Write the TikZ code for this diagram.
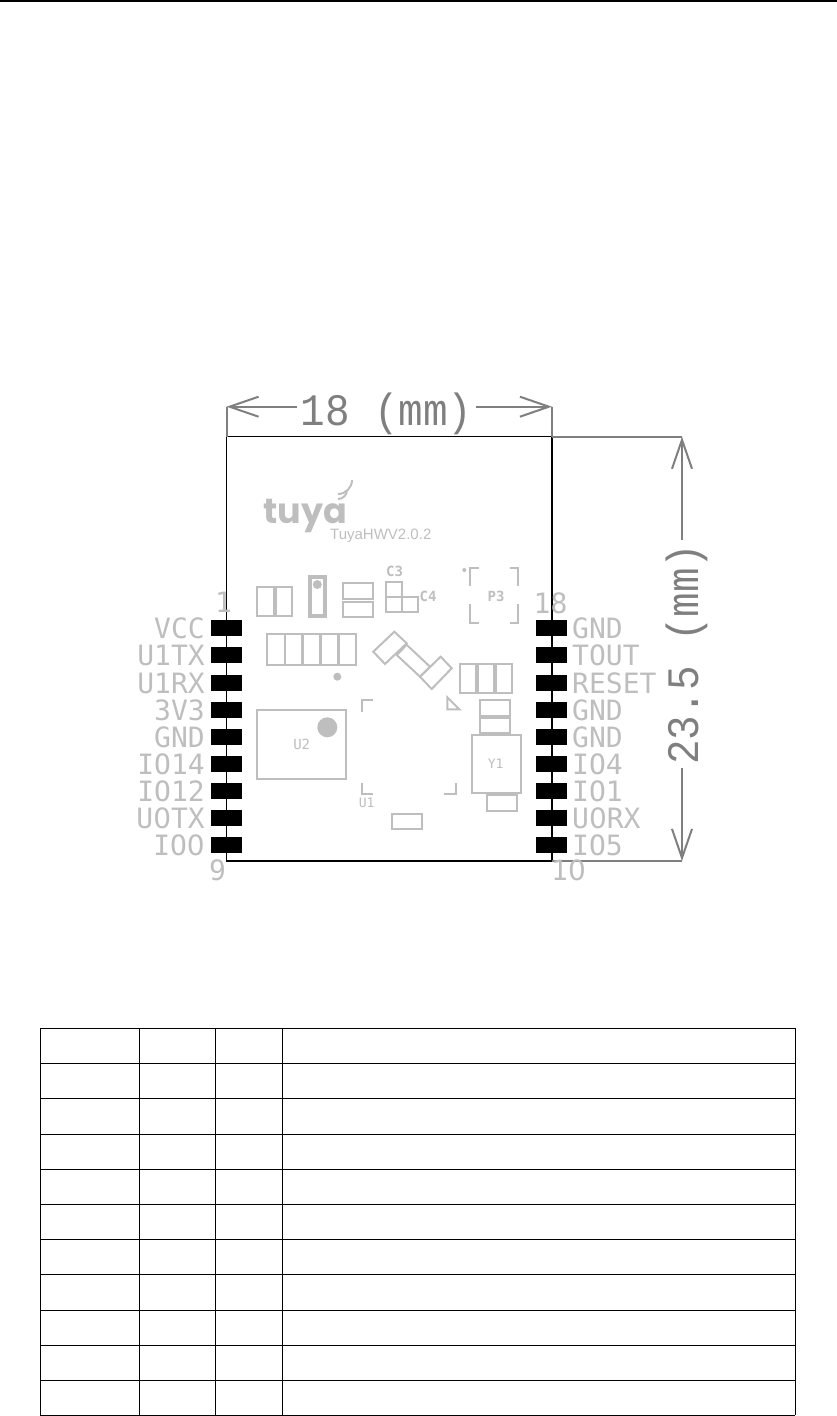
\documentclass[tikz,border=0pt]{standalone}
\usepackage{fontspec}
\usetikzlibrary{positioning,arrows.meta}
\newfontfamily\silkfont{DejaVu Sans Mono}
\newfontfamily\zerofont{DejaVu Sans}
\newfontfamily\dimfont[FakeStretch=0.91]{Liberation Mono}
\newfontfamily\logofont{Poppins}[BoldFont=* Bold]
\newfontfamily\revfont{Liberation Sans}
\newcommand{\zr}{{\zerofont 0}}
\definecolor{silk}{HTML}{BEBEBE}
\definecolor{dimgray}{HTML}{7F7F7F}
\tikzset{
  padbox/.style={fill=black,minimum width=31pt,minimum height=16pt,inner sep=0pt,outer sep=0pt},
  pinlabel/.style={text=silk,inner sep=0pt,text height=20pt,text depth=0pt,font=\silkfont\fontsize{28}{28}\selectfont},
  reflabel/.style={text=silk,inner sep=0pt,font=\silkfont\bfseries\fontsize{14}{14}\selectfont},
  part/.style={draw=silk,line width=2pt},
  dimlabel/.style={text=dimgray,inner sep=3pt,text height=30pt,text depth=0pt,font=\dimfont\fontsize{45}{45}\selectfont},
  dimline/.style={draw=dimgray,line width=2pt,-{Straight Barb[length=29pt,width=20pt,line width=2pt]}},
  extline/.style={draw=dimgray,line width=2pt},
}
\begin{document}
\begin{tikzpicture}[x=1pt,y=-1pt]
\useasboundingbox (0,0) rectangle (837,1416);
\fill (0,0) rectangle (837,1.9);
% board outline
\coordinate (bl) at (226.5,436.7); \coordinate (br) at (552,436.7);
\coordinate (cl) at (226.5,861); \coordinate (cr) at (552,861);
\draw[line width=1.4pt] (bl) -- (br) -- (cr) -- (cl) -- cycle;
% size marks
\coordinate (wl) at (226.5,406.7); \coordinate (wr) at (552,406.7);
\coordinate (hu) at (682,436.7); \coordinate (hd) at (682,861);
\draw[extline] (wl) -- (bl); \draw[extline] (wr) -- (br);
\draw[extline] (br) -- (hu); \draw[extline] (cr) -- (hd);
\node[dimlabel] (wlabel) at (386.5,410) {18 (mm)};
\node[dimlabel,rotate=90] (hlabel) at (683.5,654) {23.5 (mm)};
\draw[dimline] (wlabel.west |- wl) -- (wl);
\draw[dimline] (wlabel.east |- wr) -- (wr);
\draw[dimline] (hlabel.east -| hu) -- (hu);
\draw[dimline] (hlabel.west -| hd) -- (hd);
% pads and pin names
\foreach \i/\y/\lname/\rname in {1/628/VCC/GND,2/655/U1TX/TOUT,3/683/U1RX/RESET,4/710/3V3/GND,5/737/GND/GND,
  6/764/IO14/IO4,7/791/IO12/IO1,8/818/U\zr TX/U\zr RX,9/845/IO\zr/IO5}{
  \node[padbox] (pl\i) at (226.5,\y) {};
  \node[padbox] (pr\i) at (551.5,\y) {};
  \node[pinlabel,left=6pt of pl\i] (nl\i) {\lname};
  \node[pinlabel,right=5pt of pr\i] (nr\i) {\rname};
}
\node[pinlabel,above=7pt of pl1,xshift=-3pt] (p1) {1};
\node[pinlabel,above=6pt of pr1,xshift=-1pt] (p18) {18};
\node[pinlabel,below=7pt of pl9,xshift=-9pt] (p9) {9};
\node[pinlabel,below=7pt of pr9,xshift=17pt] (p10) {1\zr};
% logo
\node[text=silk,inner sep=0pt,anchor=base west,font=\logofont\bfseries\fontsize{35}{35}\selectfont] (logo) at (263,523) {tuya};
\draw[silk,line width=2pt] (338,499) arc (90:0:9);
\draw[silk,line width=2pt] (338,494) arc (90:0:14);
\node[text=silk,inner sep=0pt,anchor=base west,font=\revfont\fontsize{15}{15}\selectfont] (rev) at (330,539) {TuyaHWV2.0.2};
% parts, upper rows
\draw[part] (256.7,586.7) rectangle (274,616) (275.7,586.7) rectangle (292.3,616);
\draw[part,line width=4pt] (310,577) rectangle (324.7,616);
\fill[silk] (317.3,584.5) circle (4.5);
\draw[part] (343.3,583) rectangle (373.3,598.7) (343.3,602) rectangle (373.3,617.3);
\draw[part] (386,581.7) rectangle (402,611.7) (386,596.7) -- (402,596.7) (402,596.7) rectangle (417.5,611.7);
\node[reflabel] (c3) at (394.5,571.5) {C3};
\node[reflabel] (c4) at (428,596.5) {C4};
\node[reflabel] (p3) at (496,596) {P3};
\draw[part] (470,586) -- (470,568.3) -- (479.3,568.3) (510,568.3) -- (518.3,568.3) -- (518.3,586);
\draw[part] (470,604) -- (470,622.7) -- (479.3,622.7) (510,622.7) -- (518.3,622.7) -- (518.3,604);
\fill[silk] (464.3,570) circle (2);
\foreach \x in {267.3,285.2,303.1,321,338.9}{\draw[part] (\x,634.3) rectangle ++(17.2,30.7);}
\fill[silk] (337.3,676.7) circle (4);
% slanted parts
\draw[part] (394.3,631.7) -- (406.7,643.3) -- (385,664) -- (373.3,651.7) -- cycle;
\draw[part] (406.7,644.8) -- (430,666.7) -- (420,676.7) -- (396.7,655) -- cycle;
\draw[part] (440.7,656.7) -- (451.7,668.3) -- (431.7,689) -- (420,676.7) -- cycle;
\draw[part] (460,664) rectangle (475.7,692.7) (477.7,664) rectangle (494,692.7) (496,664) rectangle (511.7,692.7);
\draw[part] (447.3,697.3) -- (447.3,709.3) -- (459.3,709.3) -- cycle;
\draw[part] (480,700) rectangle (510,715.5) (480,718) rectangle (510,732.7);
% parts, lower rows
\draw[part] (472,735) rectangle (521,792.7);
\node[reflabel,font=\silkfont\fontsize{13}{13}\selectfont] (y1) at (495.7,764) {Y1};
\draw[part] (487,795) rectangle (516.7,810.7);
\draw[part] (362,711.7) -- (362,700) -- (373.3,700) (362,783.3) -- (362,794.3) -- (372.7,794.3) (444,794.3) -- (455.7,794.3) -- (455.7,783.3);
\node[reflabel,font=\silkfont\fontsize{13}{13}\selectfont] (u1) at (366.7,802.5) {U1};
\draw[part] (392.3,814) rectangle (421.7,829.3);
\draw[part] (256.7,710) rectangle (346,778.7);
\fill[silk] (327.3,727.3) circle (10);
\node[reflabel,font=\silkfont\fontsize{14}{14}\selectfont] (u2) at (301.7,744) {U2};
% table
\foreach \y in {1028.3,1063.3,1098.3,1134.3,1169.3,1204.3,1239.3,1274.3,1310.3,1345.3,1380.3,1415.3}{
  \draw[line width=1.3pt] (40.3,\y) -- (795.3,\y);
}
\foreach \x in {40.3,139.3,215.3,282.7,795.3}{\draw[line width=1.3pt] (\x,1028.3) -- (\x,1415.3);}
\end{tikzpicture}
\end{document}
